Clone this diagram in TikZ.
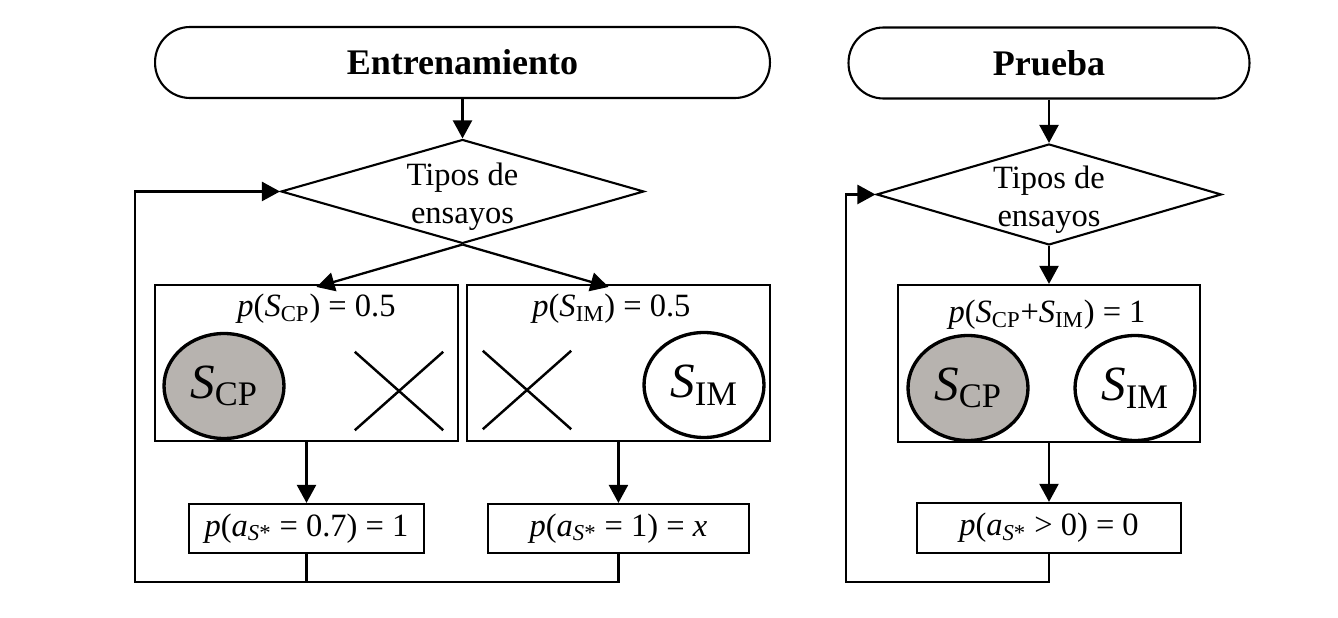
\documentclass[tikz,border=0pt]{standalone}
\usepackage{fontspec}
\setmainfont{Liberation Serif}
\usetikzlibrary{shapes.geometric,shapes.misc,arrows.meta,calc,positioning}
\definecolor{cpgray}{RGB}{183,179,175}
\newcommand{\SCP}{\textit{S}\textsubscript{CP}}
\newcommand{\SIM}{\textit{S}\textsubscript{IM}}
\newcommand{\aSs}{\textit{a}\textsubscript{\textit{S}*}}
\newcommand{\tiposTxt}{\raisebox{-0.26cm}[0pt][0pt]{\begin{tabular}{@{}c@{}}Tipos de\\ensayos\end{tabular}}}

\begin{document}
\begin{tikzpicture}[x=0.02cm, y=-0.02cm,
  phase/.style = {draw, line width=1.2pt, rounded corners=0.7cm, minimum width=#1, minimum height=1.42cm, font=\bfseries\fontsize{20.5}{24}\selectfont},
  tipos/.style = {draw, diamond, aspect=3.4, inner sep=0pt, line width=1.2pt, font=\fontsize{18.5}{21.5}\selectfont},
  box/.style = {draw, line width=1.2pt, inner sep=0pt, font=\fontsize{18.5}{22}\selectfont},
  lbl/.style = {inner sep=0pt, font=\fontsize{18.5}{22}\selectfont},
  stim/.style = {draw, ellipse, line width=1.9pt, minimum width=2.4cm, minimum height=2.1cm, inner sep=0pt, font=\fontsize{28}{30}\selectfont},
  nope/.style = {draw, cross out, line width=1.4pt, minimum width=1.72cm, minimum height=1.52cm},
  arr/.style = {line width=1.3pt, -{Triangle[length=0.36cm, width=0.38cm]}},
  link/.style = {line width=1.3pt}]
\useasboundingbox (0,0) rectangle (1338,618);

% Entrenamiento
\node[phase=12.3cm] (entr) at (462.5,62.5) {Entrenamiento};
\node[tipos, minimum width=7.26cm, minimum height=2.08cm] (tipos1) [below of=entr, node distance=2.58cm] {\tiposTxt};
\node[box, minimum width=6.06cm, minimum height=3.12cm] (cp) at (306.5,363) {};
\node[box, minimum width=6.06cm, minimum height=3.12cm] (im) [right of=cp, node distance=6.24cm] {};
\node[lbl] (cpt) at ([xshift=0.2cm, yshift=-0.5cm]cp.north) {\textit{p}(\SCP) = 0.5};
\node[lbl] (imt) at ([xshift=-0.14cm, yshift=-0.5cm]im.north) {\textit{p}(\SIM) = 0.5};
\node[stim, fill=cpgray] (cps) at (224,386) {\SCP};
\node[nope] (cpx) at (399,391) {};
\node[nope] (imx) at (527,390) {};
\node[stim] (ims) at (704,385) {\SIM};
\node[box, minimum width=4.7cm, minimum height=0.98cm] (acp) [below of=cp, node distance=3.31cm] {\textit{p}(\aSs{} = 0.7) = 1};
\node[box, minimum width=5.22cm, minimum height=0.98cm] (aim) [below of=im, node distance=3.31cm] {\textit{p}(\aSs{} = 1) = \textit{x}};
\coordinate (lb1) at (135,582);

\draw[arr] (entr) -- (tipos1);
\draw[arr] (tipos1.south) -- ($(tipos1.east)!1.8!(tipos1.south)$);
\draw[arr] (tipos1.south) -- ($(tipos1.west)!1.8!(tipos1.south)$);
\draw[arr] (cp) -- (acp);
\draw[arr] (im) -- (aim);
\draw[link] (acp.south) -- (acp.south |- lb1);
\draw[arr] (aim.south) |- (lb1) |- (tipos1.west);

% Prueba
\node[phase=8.02cm] (prue) at (1049,63) {Prueba};
\node[tipos, minimum width=6.9cm, minimum height=2.02cm] (tipos2) [below of=prue, node distance=2.63cm] {\tiposTxt};
\node[box, minimum width=6.04cm, minimum height=3.14cm] (both) [below of=tipos2, node distance=3.38cm] {};
\node[lbl] (botht) at ([xshift=-0.04cm, yshift=-0.62cm]both.north) {\textit{p}(\SCP+\SIM) = 1};
\node[stim, fill=cpgray] (bcp) at (968,388) {\SCP};
\node[stim] (bim) at (1135,388) {\SIM};
\node[box, minimum width=5.28cm, minimum height=1cm] (ats) [below of=both, node distance=3.29cm] {\textit{p}(\aSs{} > 0) = 0};
\coordinate (lb2) at (846,582);

\draw[arr] (prue) -- (tipos2);
\draw[arr] (tipos2) -- (both);
\draw[arr] (both) -- (ats);
\draw[arr] (ats.south) |- (lb2) |- (tipos2.west);
\end{tikzpicture}
\end{document}
